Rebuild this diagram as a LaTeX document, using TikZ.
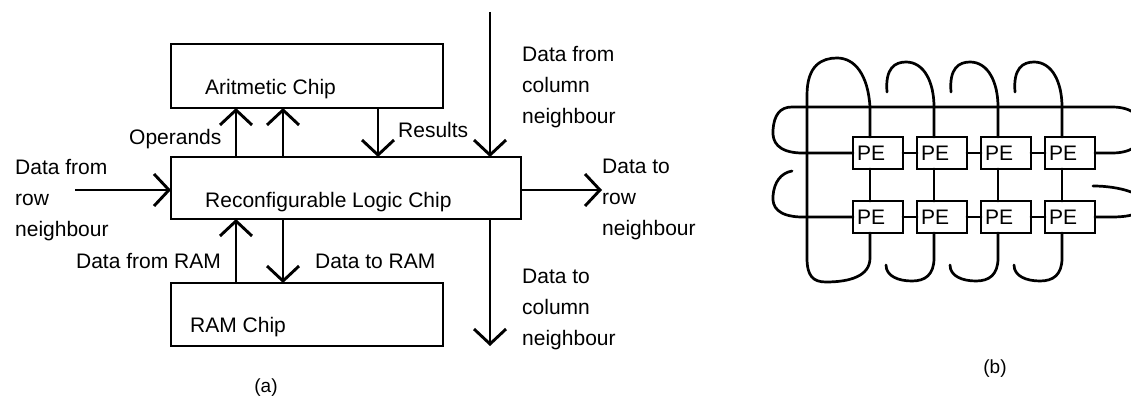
\documentclass[tikz,border=0pt]{standalone}
\usepackage{fontspec}
\setmainfont{Liberation Sans}
\usetikzlibrary{arrows.meta}
\begin{document}
\begin{tikzpicture}[x=1pt,y=-1pt,
  every node/.style={font=\fontsize{21}{31}\selectfont, inner sep=0pt},
  txt/.style={anchor=base west, align=left},
  chip/.style={draw, line width=2.9pt, outer sep=0pt, anchor=north west},
  arr/.style={line width=2.9pt, -{Straight Barb[length=15pt,width=32pt]}},
  pe/.style={draw, line width=2.7pt, outer sep=0pt, text width=42pt, inner xsep=4pt,
    align=left, minimum height=32pt},
  wire/.style={line width=2.7pt, line cap=round, line join=round},
  figlabel/.style={font=\fontsize{19}{23}\selectfont}]
\useasboundingbox (0,0) rectangle (1131,398);
\clip (0,0) rectangle (1131,398);

% ---------- (a) one processing element ----------
\node[chip, minimum width=272pt, minimum height=64pt] (arith) at (171,44) {};
\node[chip, minimum width=350pt, minimum height=62pt] (logic) at (171,157) {};
\node[chip, minimum width=272pt, minimum height=63pt] (ram)   at (171,283) {};

\node[txt] (tArith) at (205,95)  {Aritmetic Chip};
\node[txt] (tLogic) at (205,207) {Reconfigurable Logic Chip};
\node[txt] (tRam)   at (190,332) {RAM Chip};

\coordinate (xa) at (236,0);
\coordinate (xb) at (283,0);
\coordinate (xr) at (378,0);
\coordinate (xc) at (490,0);
\coordinate (colin)  at (490,12);
\coordinate (colout) at (490,346);
\coordinate (rowin)  at (75,190);
\coordinate (rowout) at (602,190);

% operands and results
\draw[arr] (logic.north -| xa) -- (arith.south -| xa);
\draw[arr] (logic.north -| xb) -- (arith.south -| xb);
\draw[arr] (arith.south -| xr) -- (logic.north -| xr);
% RAM traffic
\draw[arr] (ram.north -| xa) -- (logic.south -| xa);
\draw[arr] (logic.south -| xb) -- (ram.north -| xb);
% neighbours
\draw[arr] (colin) -- (logic.north -| xc);
\draw[arr] (logic.south -| xc) -- (colout);
\draw[arr] (rowin) -- (rowin -| logic.west);
\draw[arr] (rowout -| logic.east) -- (rowout);

% multi-line labels are placed by the baseline of their last line
\node[txt] (tOp)   at (129,145) {Operands};
\node[txt] (tRes)  at (398,138) {Results};
\node[txt] (tCin)  at (522,124) {Data from\\column\\neighbour};
\node[txt] (tRin)  at (15,236)  {Data from\\row\\neighbour};
\node[txt] (tRout) at (602,235) {Data to\\row\\neighbour};
\node[anchor=base east] (tFr) at (221,268) {Data from RAM};
\node[txt] (tTo)   at (315,268) {Data to RAM};
\node[txt] (tCout) at (522,345) {Data to\\column\\neighbour};
\node[figlabel] (capA) at (266,388) {(a)};

% ---------- (b) array of processing elements ----------
\foreach \i in {1,...,4} {
  \node[pe] (u\i) at ({878+64*(\i-1)},153) {PE};
  \node[pe] (d\i) at ({878+64*(\i-1)},217) {PE};
  \coordinate (k\i) at ({870+64*(\i-1)},0);
  \draw[wire] (u\i.south -| k\i) -- (d\i.north -| k\i);
}
\foreach \i/\j in {1/2,2/3,3/4} {
  \draw[wire] (u\i) -- (u\j);
  \draw[wire] (d\i) -- (d\j);
}

% column 1 wraps round on itself
\draw[wire] (u1.north -| k1) -- (870,107)
  .. controls (868,75) and (855,58) .. (837,58)
  .. controls (822,58) and (807,65) .. (807,95) -- (807,258)
  .. controls (807,276) and (813,282) .. (826,282)
  .. controls (850,282) and (870,276) .. (870,258) -- (d1.south -| k1);

% columns 2 to 4: open hooks above and below
\foreach \i in {2,3,4} {
  \begin{scope}[xshift={64*(\i-2)}]
    \draw[wire] (887,92) .. controls (885,68) and (895,62) .. (906,62)
      .. controls (924,62) and (934,82) .. (934,107) -- (u\i.north -| k\i);
    \draw[wire] (d\i.south -| k\i) -- (934,258)
      .. controls (934,275) and (925,281) .. (912,281)
      .. controls (898,281) and (886,276) .. (886,265);
  \end{scope}
}

% row 1 ring
\draw[wire] (u1.west) -- (800,153)
  .. controls (778,152) and (772,142) .. (773,130)
  .. controls (774,115) and (780,107) .. (792,107) -- (1112,107)
  .. controls (1134,107) and (1142,118) .. (1142,130)
  .. controls (1142,143) and (1134,153) .. (1112,153) -- (u4.east);

% row 2 hooks
\draw[wire] (d1.west) -- (800,217)
  .. controls (778,216) and (772,207) .. (773,196)
  .. controls (774,182) and (781,173) .. (792,171);
\draw[wire] (d4.east) -- (1112,217)
  .. controls (1134,217) and (1144,212) .. (1144,203)
  .. controls (1144,194) and (1120,186) .. (1093,186);

\node[figlabel] (capB) at (995,369) {(b)};
\end{tikzpicture}
\end{document}
